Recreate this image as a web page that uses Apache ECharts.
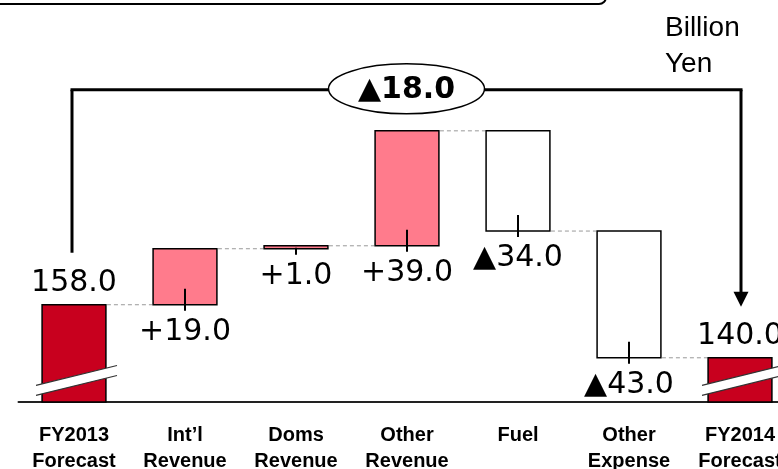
<!DOCTYPE html>
<html>
<head>
<meta charset="utf-8">
<script src="https://cdn.jsdelivr.net/npm/echarts@6/dist/echarts.min.js"></script>
<style>
  html, body { margin: 0; padding: 0; background: #fff; }
  #chart { width: 778px; height: 469px; }
</style>
</head>
<body>
<div id="chart"></div>
<script>
// data (billion yen)
const categories = ["FY2013\nForecast", "Int’l\nRevenue", "Doms\nRevenue", "Other\nRevenue", "Fuel", "Other\nExpense", "FY2014\nForecast"];
const forecastStart = 158.0;
const changes = [19.0, 1.0, 39.0, -34.0, -43.0];
const forecastEnd = 140.0;
const netChange = -18.0;
const axisFloor = 125; // axis is broken, bars start here
const axisCeil = 220;

const TOTAL_RED = "#C8001E";
const UP_PINK = "#FF7B8C";

function fmt(v, signed) {
  if (!signed) return v.toFixed(1);
  return (v >= 0 ? "+" : "▲") + Math.abs(v).toFixed(1);
}

// rows: [low, high, kind(0 total / 1 up / 2 down), label]
const rows = [[axisFloor, forecastStart, 0, fmt(forecastStart)]];
const levels = [forecastStart];
let level = forecastStart;
changes.forEach(function (c) {
  const next = level + c;
  rows.push([Math.min(level, next), Math.max(level, next), c > 0 ? 1 : 2, fmt(c, true)]);
  levels.push(next);
  level = next;
});
rows.push([axisFloor, forecastEnd, 0, fmt(forecastEnd)]);

const chart = echarts.init(document.getElementById("chart"));

function renderBar(params, api) {
  const i = params.dataIndex;
  const row = rows[i];
  const bw = api.size([1, 0])[0] * 0.575;
  const lo = api.coord([i, row[0]]);
  const hi = api.coord([i, row[1]]);
  const cx = lo[0];
  const kids = [];
  const fill = row[2] === 0 ? TOTAL_RED : row[2] === 1 ? UP_PINK : "#fff";
  kids.push({
    type: "rect",
    shape: { x: cx - bw / 2, y: hi[1], width: bw, height: lo[1] - hi[1] },
    style: { fill: fill, stroke: "#000", lineWidth: 1.5 },
  });
  if (i < levels.length) {
    const a = api.coord([i, levels[i]]);
    const b = api.coord([i + 1, levels[i]]);
    kids.push({
      type: "line",
      shape: { x1: cx + bw / 2 + 1, y1: a[1], x2: b[0] - bw / 2 - 1, y2: a[1] },
      style: { stroke: "#999", lineWidth: 1, lineDash: [4, 3] },
    });
  }
  if (row[2] === 0) {
    // axis break stripe
    const y0 = lo[1];
    const s = 0.245;
    const xl = cx - 38, xr = cx + 43;
    const ul = y0 - 26 + 38 * s, ur = y0 - 26 - 43 * s;
    kids.push({
      type: "polygon",
      shape: { points: [[xl, ul], [xr, ur], [xr, ur + 10], [xl, ul + 10]] },
      style: { fill: "#fff" },
    });
    kids.push({ type: "line", shape: { x1: xl, y1: ul, x2: xr, y2: ur }, style: { stroke: "#333", lineWidth: 1.2 } });
    kids.push({ type: "line", shape: { x1: xl, y1: ul + 10, x2: xr, y2: ur + 10 }, style: { stroke: "#333", lineWidth: 1.2 } });
    kids.push({
      type: "text",
      style: { text: row[3], x: cx, y: hi[1] - 22, align: "center", verticalAlign: "middle",
        fontFamily: "DejaVu Sans", fontSize: 30, fill: "#000" },
    });
  } else {
    kids.push({
      type: "line",
      shape: { x1: cx, y1: Math.max(lo[1] - 16, hi[1] + 2), x2: cx, y2: lo[1] + 6 },
      style: { stroke: "#000", lineWidth: 2 },
    });
    kids.push({
      type: "text",
      style: { text: row[3], x: cx, y: lo[1] + 27, align: "center", verticalAlign: "middle",
        fontFamily: "DejaVu Sans", fontSize: 30, fill: "#000" },
    });
  }
  return { type: "group", children: kids };
}

function renderNet(params, api) {
  const last = rows.length - 1;
  const a = api.coord([0, forecastStart]);
  const b = api.coord([last, forecastEnd]);
  const top = api.coord([0, Math.max.apply(null, levels)])[1] - 41;
  const xa = a[0] - 2, xb = b[0] + 1;
  const mid = (xa + xb) / 2;
  const line = { stroke: "#000", lineWidth: 3 };
  return {
    type: "group",
    children: [
      { type: "line", shape: { x1: xa, y1: a[1] - 52, x2: xa, y2: top }, style: line },
      { type: "line", shape: { x1: xa - 1.5, y1: top, x2: xb + 1.5, y2: top }, style: line },
      { type: "line", shape: { x1: xb, y1: top, x2: xb, y2: b[1] - 64 }, style: line },
      { type: "polygon", shape: { points: [[xb - 7.5, b[1] - 66], [xb + 7.5, b[1] - 66], [xb, b[1] - 51]] }, style: { fill: "#000" } },
      { type: "ellipse", shape: { cx: mid, cy: top - 1, rx: 78, ry: 25 }, style: { fill: "#fff", stroke: "#000", lineWidth: 1.5 } },
      {
        type: "text",
        style: { text: fmt(netChange, true).replace("+", ""), x: mid, y: top, align: "center", verticalAlign: "middle",
          fontFamily: "DejaVu Sans", fontWeight: "bold", fontSize: 30, fill: "#000" },
      },
    ],
  };
}

chart.setOption({
  backgroundColor: "#fff",
  animation: false,
  grid: { left: 18.5, width: 777, top: 122, bottom: 67, outerBoundsMode: "none" },
  xAxis: {
    type: "category",
    data: categories,
    axisLine: { lineStyle: { color: "#222", width: 2 } },
    axisTick: { show: false },
    axisLabel: {
      interval: 0,
      margin: 20,
      color: "#000",
      fontFamily: "Liberation Sans",
      fontWeight: "bold",
      fontSize: 20,
      lineHeight: 26,
      hideOverlap: false,
    },
  },
  yAxis: { type: "value", min: axisFloor, max: axisCeil, show: false },
  graphic: [
    {
      type: "rect",
      shape: { x: -20, y: -40, width: 626, height: 44, r: 7 },
      style: { fill: "none", stroke: "#000", lineWidth: 2 },
    },
    {
      type: "text",
      left: 665,
      top: 10,
      style: { text: "Billion\nYen", fontFamily: "Liberation Sans", fontSize: 28, lineHeight: 36, fill: "#000" },
    },
  ],
  series: [
    {
      type: "custom",
      name: "bars",
      renderItem: renderBar,
      data: rows.map(function (r, i) { return [i, r[0], r[1]]; }),
      encode: { x: 0, y: [1, 2] },
      clip: false,
    },
    {
      type: "custom",
      name: "net",
      renderItem: renderNet,
      data: [[0, forecastStart]],
      encode: { x: 0, y: 1 },
      clip: false,
    },
  ],
});
</script>
</body>
</html>
